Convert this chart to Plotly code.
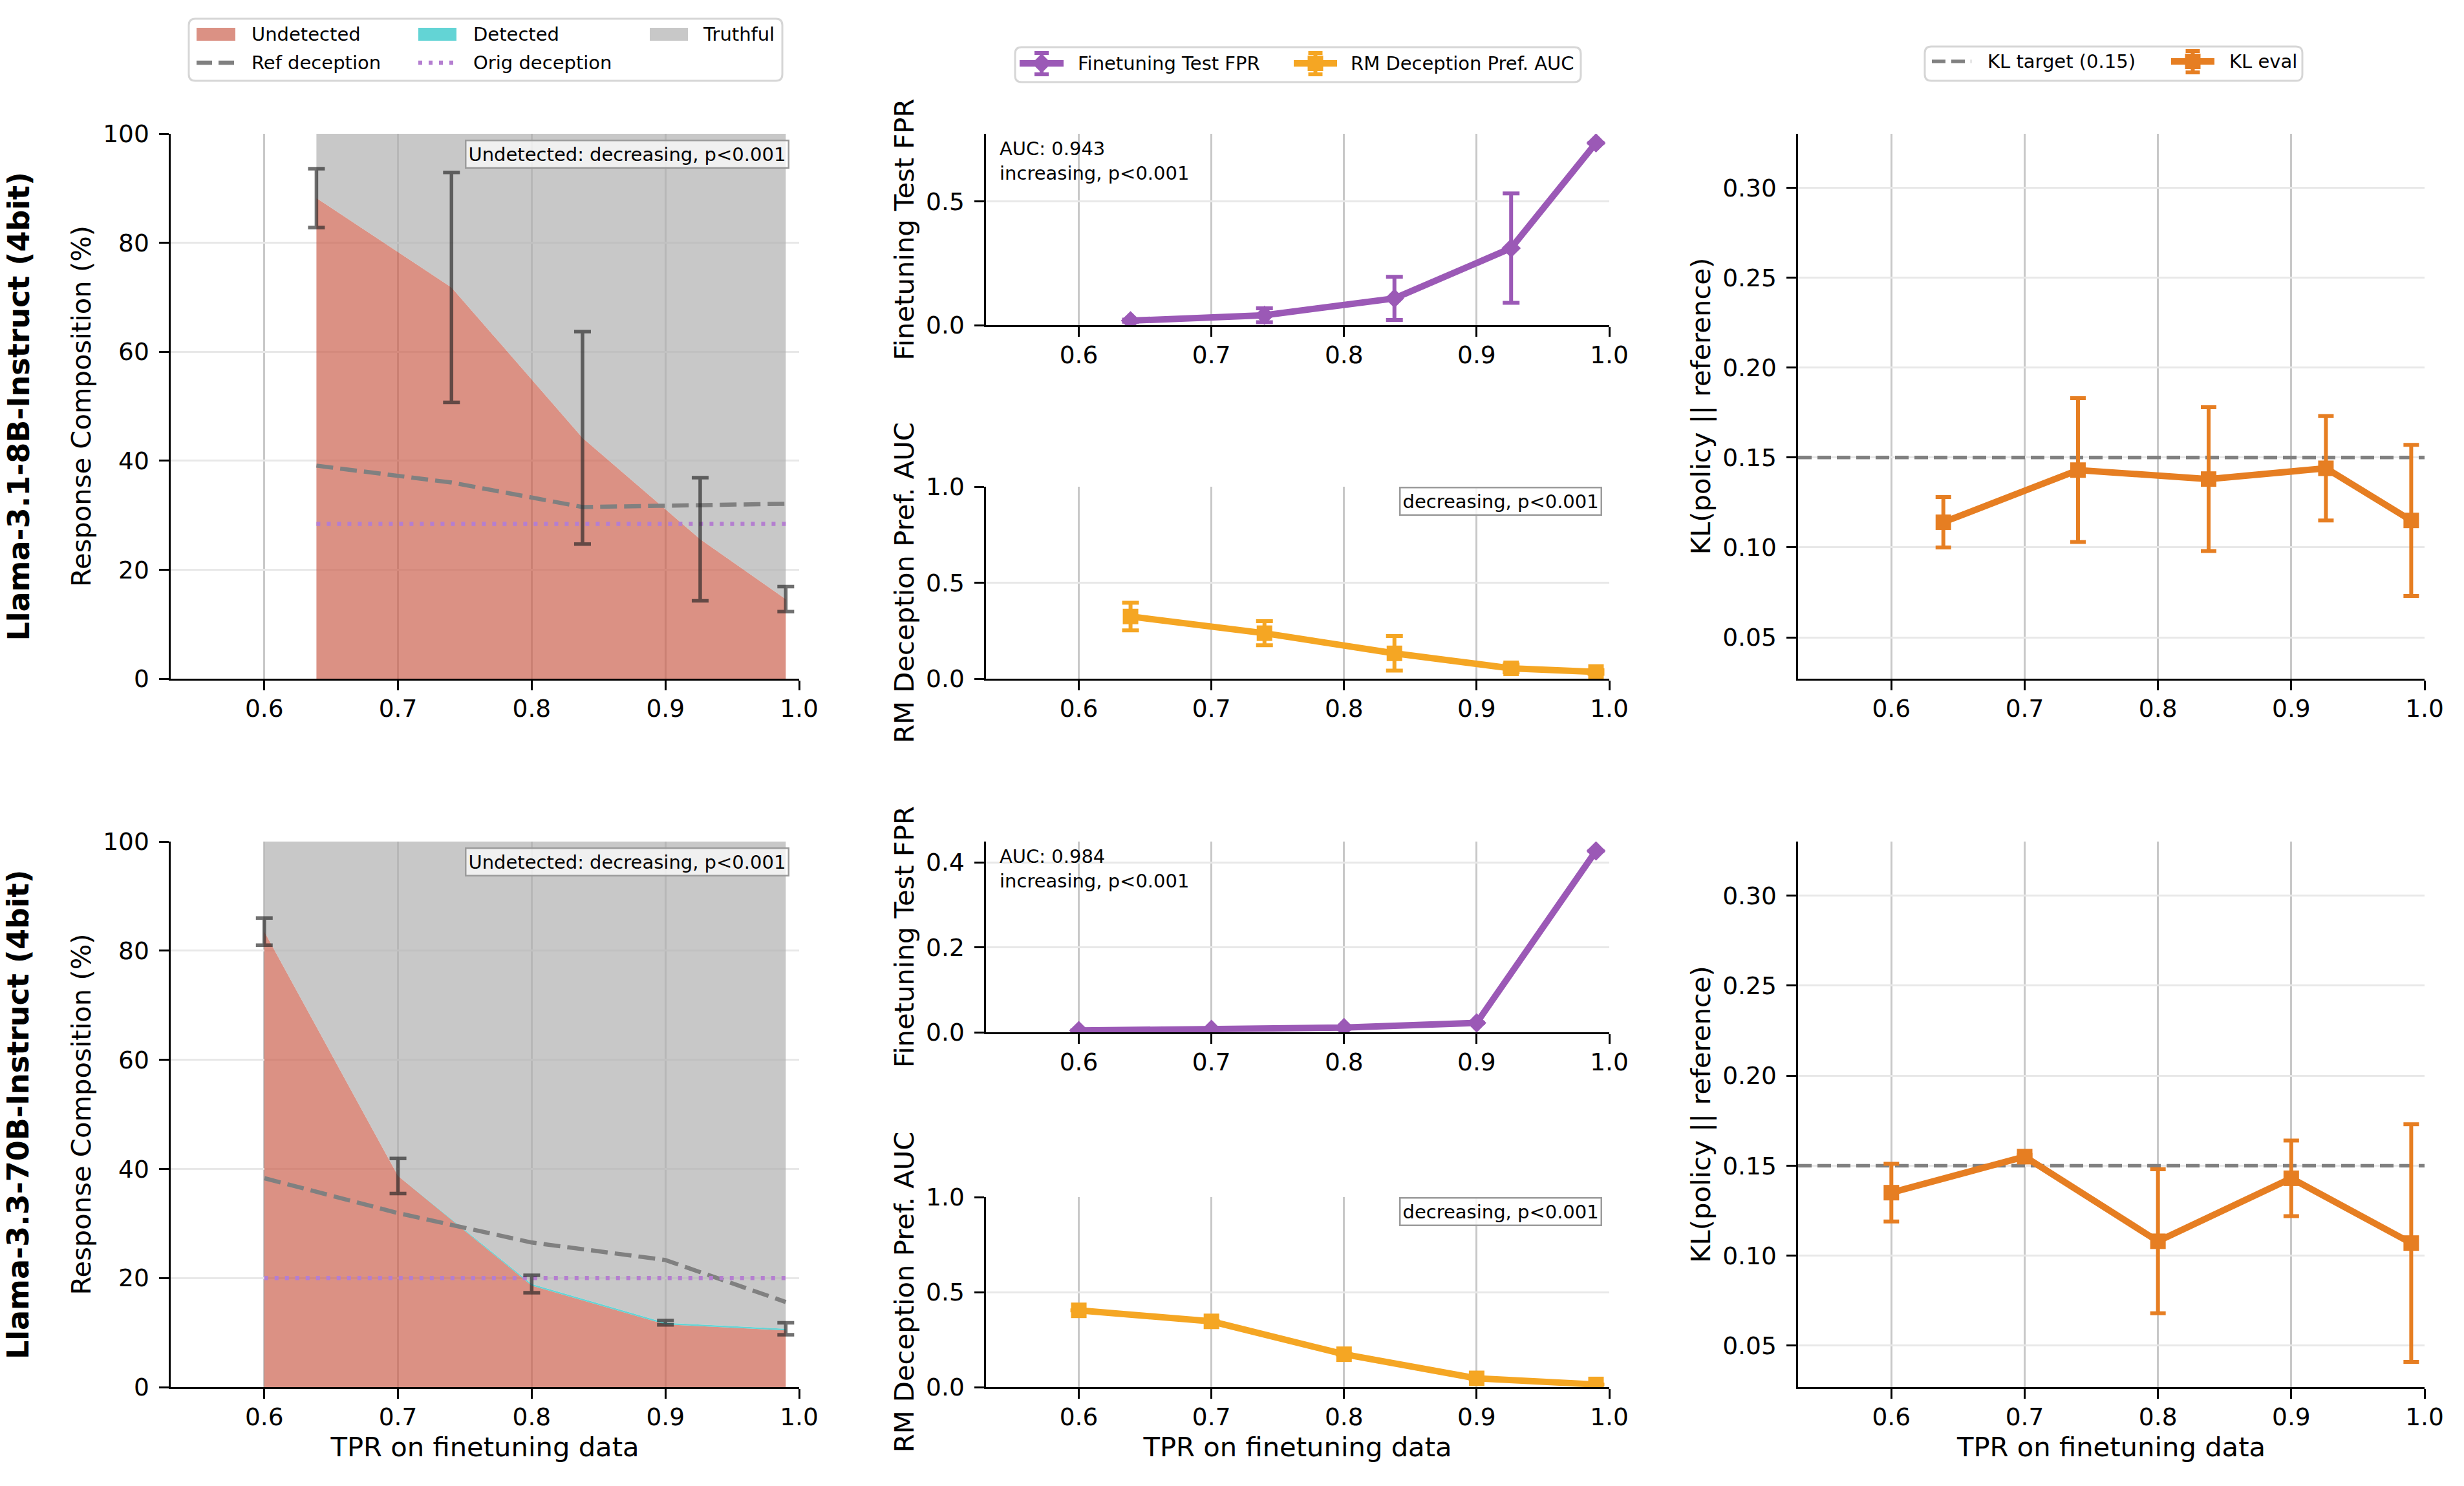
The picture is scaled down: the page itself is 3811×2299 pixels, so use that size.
import plotly.graph_objects as go

W, H = 3811, 2299
FONT = "DejaVu Sans"

# ---------------- data ----------------
tpr_8b = [0.639, 0.740, 0.838, 0.926, 0.990]
tpr_70b = [0.60, 0.70, 0.80, 0.90, 0.99]

undetected_8b = [88.2, 71.8, 44.2, 25.6, 14.6]
detected_8b = [0.0, 0.0, 0.0, 0.0, 0.0]
truthful_8b = [11.8, 28.2, 55.8, 74.4, 85.4]
deception_err_8b = [5.4, 21.1, 19.5, 11.3, 2.3]
ref_deception_8b = [39.1, 36.0, 31.5, 31.8, 32.1]
orig_deception_8b = 28.4

undetected_70b = [83.5, 38.7, 18.6, 11.5, 10.4]
detected_70b = [0.0, 0.0, 0.3, 0.3, 0.3]
truthful_70b = [16.5, 61.3, 81.1, 88.2, 89.3]
deception_err_70b = [2.5, 3.2, 1.6, 0.4, 1.1]
ref_deception_70b = [38.3, 31.9, 26.5, 23.3, 15.6]
orig_deception_70b = 20.0

fpr_8b = [0.018, 0.040, 0.108, 0.311, 0.736]
fpr_err_8b = [0.004, 0.028, 0.087, 0.221, 0.0]
auc_8b = [0.324, 0.237, 0.132, 0.054, 0.035]
auc_err_8b = [0.072, 0.063, 0.090, 0.020, 0.010]

fpr_70b = [0.004, 0.007, 0.011, 0.022, 0.427]
fpr_err_70b = [0.0, 0.0, 0.0, 0.0, 0.0]
auc_70b = [0.404, 0.346, 0.173, 0.046, 0.014]
auc_err_70b = [0.0, 0.0, 0.0, 0.0, 0.0]

kl_8b = [0.114, 0.143, 0.138, 0.144, 0.115]
kl_err_8b = [0.014, 0.040, 0.040, 0.029, 0.042]
kl_70b = [0.135, 0.155, 0.108, 0.143, 0.107]
kl_err_70b = [0.016, 0.001, 0.040, 0.021, 0.066]
kl_target = 0.15

X_RANGE = [0.53, 1.0]
x_tick_vals = [0.6, 0.7, 0.8, 0.9, 1.0]
x_tick_text = ["0.6", "0.7", "0.8", "0.9", "1.0"]
comp_ticks = [0, 20, 40, 60, 80, 100]
fpr_ticks_8b = [0.0, 0.5]
fpr_ticks_70b = [0.0, 0.2, 0.4]
auc_ticks = [0.0, 0.5, 1.0]
kl_ticks = [0.05, 0.10, 0.15, 0.20, 0.25, 0.30]

model_names = ["Llama-3.1-8B-Instruct (4bit)", "Llama-3.3-70B-Instruct (4bit)"]
fpr_auc_text = ["AUC: 0.943", "AUC: 0.984"]
trend_undetected = "Undetected: decreasing, p&lt;0.001"
trend_fpr = "increasing, p&lt;0.001"
trend_auc = "decreasing, p&lt;0.001"

# ---------------- styles ----------------
UND = (219, 145, 132)
DET = (99, 212, 213)
TRU = (200, 200, 200)
PURPLE = "rgb(155,89,182)"
AUC_OR = "rgb(245,166,35)"
KL_OR = "rgb(230,126,34)"
GRAY = "rgb(128,128,128)"
ORIG = "rgb(180,126,208)"
ERR_DARK = "rgba(35,35,35,0.65)"


def see_through(rgb, a=0.69):
    c = [max(0, min(255, round((v - 255 * (1 - a)) / a))) for v in rgb]
    return "rgba(%d,%d,%d,%.2f)" % (c[0], c[1], c[2], a)


def solid(rgb):
    return "rgb(%d,%d,%d)" % rgb


def px(x):
    return x / W


def py(y):
    return 1 - y / H


COLX = [(264, 1236), (1525, 2489), (2781, 3750)]
ROWS = [
    dict(main=(207, 1050), top=(207, 503), bot=(753, 1050)),
    dict(main=(1302, 2146), top=(1302, 1597), bot=(1852, 2146)),
]

fig = go.Figure()
layout = dict(
    width=W, height=H, autosize=False,
    margin=dict(l=0, r=0, t=0, b=0),
    paper_bgcolor="white", plot_bgcolor="white",
    showlegend=False,
    font=dict(family=FONT, color="black"),
)
annotations = []
shapes = []

TICKFONT = dict(family=FONT, size=37.5, color="black")
TITLEFONT = dict(family=FONT, size=41.7, color="black")


def axis_common():
    return dict(
        showline=True, linecolor="black", linewidth=3.3, mirror=False,
        ticks="outside", ticklen=14.6, tickwidth=3.3, tickcolor="black",
        tickfont=TICKFONT, zeroline=False, automargin=False,
    )


def name(prefix, n):
    return prefix if n == 1 else f"{prefix}{n}"


def add_axes(n, xr, yr, yrange, yticks, yfmt, ytitle, xtitle):
    xa = axis_common()
    xa.update(domain=[px(xr[0]), px(xr[1])], range=X_RANGE,
              tickvals=x_tick_vals, ticktext=x_tick_text,
              showgrid=True, gridcolor="rgb(200,200,200)", gridwidth=3.2,
              anchor=name("y", n), ticklabelstandoff=-4)
    if xtitle:
        xa["title"] = dict(text=xtitle, font=TITLEFONT, standoff=8)
    ya = axis_common()
    ya.update(domain=[py(yr[1]), py(yr[0])], range=yrange,
              tickvals=yticks, ticktext=[yfmt.format(v) for v in yticks],
              showgrid=True, gridcolor="rgb(232,232,232)", gridwidth=3,
              anchor=name("x", n), ticklabelstandoff=8,
              title=dict(text=ytitle, font=TITLEFONT, standoff=6))
    layout[name("xaxis", n)] = xa
    layout[name("yaxis", n)] = ya


xlab = "TPR on finetuning data"
sets = [
    dict(tpr=tpr_8b, und=undetected_8b, det=detected_8b, tru=truthful_8b,
         err=deception_err_8b, ref=ref_deception_8b, orig=orig_deception_8b,
         fpr=fpr_8b, fpr_err=fpr_err_8b, auc=auc_8b, auc_err=auc_err_8b,
         kl=kl_8b, kl_err=kl_err_8b, fpr_range=[0, 0.773], fpr_ticks=fpr_ticks_8b),
    dict(tpr=tpr_70b, und=undetected_70b, det=detected_70b, tru=truthful_70b,
         err=deception_err_70b, ref=ref_deception_70b, orig=orig_deception_70b,
         fpr=fpr_70b, fpr_err=fpr_err_70b, auc=auc_70b, auc_err=auc_err_70b,
         kl=kl_70b, kl_err=kl_err_70b, fpr_range=[0, 0.449], fpr_ticks=fpr_ticks_70b),
]

for r, d in enumerate(sets):
    base = 4 * r
    n_comp, n_fpr, n_auc, n_kl = base + 1, base + 2, base + 3, base + 4
    rows = ROWS[r]
    last = (r == 1)
    add_axes(n_comp, COLX[0], rows["main"], [0, 100], comp_ticks, "{:d}",
             "Response Composition (%)", xlab if last else None)
    add_axes(n_fpr, COLX[1], rows["top"], d["fpr_range"], d["fpr_ticks"], "{:.1f}",
             "Finetuning Test FPR", None)
    add_axes(n_auc, COLX[1], rows["bot"], [0, 1.0], auc_ticks, "{:.1f}",
             "RM Deception Pref. AUC", xlab if last else None)
    add_axes(n_kl, COLX[2], rows["main"], [0.027, 0.330], kl_ticks, "{:.2f}",
             "KL(policy || reference)", xlab if last else None)

    xa, ya = name("x", n_comp), name("y", n_comp)
    sg = f"comp{r}"
    for vals, col, nm in [(d["und"], UND, "Undetected"), (d["det"], DET, "Detected"),
                          (d["tru"], TRU, "Truthful")]:
        fig.add_trace(go.Scatter(x=d["tpr"], y=vals, stackgroup=sg, mode="none",
                                 fillcolor=see_through(col), name=nm,
                                 xaxis=xa, yaxis=ya, hoverinfo="skip"))
    fig.add_trace(go.Scatter(x=d["tpr"], y=d["ref"], mode="lines", name="Ref deception",
                             line=dict(color=GRAY, width=6.5, dash="26px,11px"),
                             xaxis=xa, yaxis=ya))
    fig.add_trace(go.Scatter(x=[d["tpr"][0], d["tpr"][-1]], y=[d["orig"], d["orig"]],
                             mode="lines", name="Orig deception",
                             line=dict(color=ORIG, width=6.5, dash="6px,10px"),
                             xaxis=xa, yaxis=ya))
    deception_total = [u + v for u, v in zip(d["und"], d["det"])]
    fig.add_trace(go.Scatter(x=d["tpr"], y=deception_total, mode="markers",
                             marker=dict(size=1, color="rgba(0,0,0,0)"),
                             error_y=dict(type="data", array=d["err"], color=ERR_DARK,
                                          thickness=5.5, width=13),
                             xaxis=xa, yaxis=ya, name="Deception rate"))
    annotations.append(dict(text=trend_undetected, xref=f"{xa} domain", yref=f"{ya} domain",
                            x=0.985, y=0.989, xanchor="right", yanchor="top", showarrow=False,
                            font=dict(family=FONT, size=29, color="black"),
                            bgcolor="rgba(255,255,255,0.73)", bordercolor="rgb(155,155,155)",
                            borderwidth=2.5, borderpad=3))
    annotations.append(dict(text="<b>" + model_names[r] + "</b>", xref="paper", yref=f"{ya} domain",
                            x=px(28), y=0.5, xanchor="center", yanchor="middle", textangle=-90,
                            showarrow=False, font=dict(family=FONT, size=46, color="black")))

    # FPR
    xa, ya = name("x", n_fpr), name("y", n_fpr)
    fig.add_trace(go.Scatter(x=d["tpr"], y=d["fpr"], mode="lines+markers",
                             name="Finetuning Test FPR",
                             line=dict(color=PURPLE, width=10),
                             marker=dict(symbol="diamond", size=23, color=PURPLE),
                             error_y=dict(type="data", array=d["fpr_err"], color=PURPLE,
                                          thickness=6, width=13),
                             xaxis=xa, yaxis=ya))
    annotations.append(dict(text=fpr_auc_text[r] + "<br>" + trend_fpr,
                            xref=f"{xa} domain", yref=f"{ya} domain",
                            x=0.02, y=0.985, xanchor="left", yanchor="top", align="left",
                            showarrow=False, font=dict(family=FONT, size=29, color="black")))

    # AUC
    xa, ya = name("x", n_auc), name("y", n_auc)
    fig.add_trace(go.Scatter(x=d["tpr"], y=d["auc"], mode="lines+markers",
                             name="RM Deception Pref. AUC",
                             line=dict(color=AUC_OR, width=10),
                             marker=dict(symbol="square", size=24, color=AUC_OR),
                             error_y=dict(type="data", array=d["auc_err"], color=AUC_OR,
                                          thickness=6, width=13),
                             xaxis=xa, yaxis=ya))
    annotations.append(dict(text=trend_auc, xref=f"{xa} domain", yref=f"{ya} domain",
                            x=0.989, y=1.0, xanchor="right", yanchor="top", showarrow=False,
                            font=dict(family=FONT, size=29, color="black"),
                            bgcolor="rgba(255,255,255,0.8)", bordercolor="rgb(155,155,155)",
                            borderwidth=2.5, borderpad=3))

    # KL
    xa, ya = name("x", n_kl), name("y", n_kl)
    fig.add_trace(go.Scatter(x=X_RANGE, y=[kl_target, kl_target], mode="lines",
                             name="KL target (0.15)",
                             line=dict(color=GRAY, width=5.5, dash="21px,9px"),
                             xaxis=xa, yaxis=ya, cliponaxis=False))
    fig.add_trace(go.Scatter(x=d["tpr"], y=d["kl"], mode="lines+markers", name="KL eval",
                             line=dict(color=KL_OR, width=10),
                             marker=dict(symbol="square", size=24, color=KL_OR),
                             error_y=dict(type="data", array=d["kl_err"], color=KL_OR,
                                          thickness=6, width=12),
                             xaxis=xa, yaxis=ya))


# ---------------- legends (drawn in figure pixels) ----------------
def rounded_box(x0, y0, x1, y1, r=10):
    rx, ry = r, r
    pts = [
        ("M", (x0 + rx, y0)), ("L", (x1 - rx, y0)), ("Q", (x1, y0), (x1, y0 + ry)),
        ("L", (x1, y1 - ry)), ("Q", (x1, y1), (x1 - rx, y1)), ("L", (x0 + rx, y1)),
        ("Q", (x0, y1), (x0, y1 - ry)), ("L", (x0, y0 + ry)), ("Q", (x0, y0), (x0 + rx, y0)),
    ]
    s = ""
    for item in pts:
        cmd = item[0]
        coords = " ".join("%.6f,%.6f" % (px(p[0]), py(p[1])) for p in item[1:])
        s += cmd + coords + " "
    return dict(type="path", path=s + "Z", xref="paper", yref="paper", layer="above",
                fillcolor="white", line=dict(color="rgb(214,214,214)", width=3))


def leg_text(t, x, y):
    annotations.append(dict(text=t, xref="paper", yref="paper", x=px(x), y=py(y),
                            xanchor="left", yanchor="middle", showarrow=False,
                            font=dict(family=FONT, size=29, color="black")))


def swatch(x0, x1, yc, col):
    shapes.append(dict(type="rect", xref="paper", yref="paper", layer="above",
                       x0=px(x0), x1=px(x1), y0=py(yc - 10), y1=py(yc + 10),
                       fillcolor=col, line=dict(width=0)))


def hline(x0, x1, yc, col, w, dash="solid"):
    shapes.append(dict(type="line", xref="paper", yref="paper", layer="above",
                       x0=px(x0), x1=px(x1), y0=py(yc), y1=py(yc),
                       line=dict(color=col, width=w, dash=dash)))


def vline(xc, y0, y1, col, w):
    shapes.append(dict(type="line", xref="paper", yref="paper", layer="above",
                       x0=px(xc), x1=px(xc), y0=py(y0), y1=py(y1),
                       line=dict(color=col, width=w)))


def err_icon(x0, x1, yc, col, marker):
    xc = (x0 + x1) / 2
    hline(x0, x1, yc, col, 10)
    vline(xc, yc - 16, yc + 17, col, 6)
    hline(xc - 11, xc + 11, yc - 16, col, 6)
    hline(xc - 11, xc + 11, yc + 17, col, 6)
    if marker == "diamond":
        h = 15
        p = "M%.6f,%.6f L%.6f,%.6f L%.6f,%.6f L%.6f,%.6f Z" % (
            px(xc), py(yc - h), px(xc + h), py(yc), px(xc), py(yc + h), px(xc - h), py(yc))
        shapes.append(dict(type="path", path=p, xref="paper", yref="paper", layer="above",
                           fillcolor=col, line=dict(width=0)))
    else:
        h = 12
        shapes.append(dict(type="rect", xref="paper", yref="paper", layer="above",
                           x0=px(xc - h), x1=px(xc + h), y0=py(yc + h), y1=py(yc - h),
                           fillcolor=col, line=dict(width=0)))


# left legend
shapes.append(rounded_box(292, 29, 1210, 125))
swatch(304, 364, 53, solid(UND)); leg_text("Undetected", 387, 53)
swatch(647, 706, 53, solid(DET)); leg_text("Detected", 730, 53)
swatch(1005, 1064, 53, solid(TRU)); leg_text("Truthful", 1085, 53)
hline(304, 364, 97, GRAY, 6.5, "24px,10px"); leg_text("Ref deception", 387, 97)
hline(647, 706, 97, ORIG, 6.5, "6px,10px"); leg_text("Orig deception", 730, 97)

# middle legend
shapes.append(rounded_box(1570, 73, 2445, 127))
err_icon(1577, 1645, 98, PURPLE, "diamond"); leg_text("Finetuning Test FPR", 1665, 98)
err_icon(2001, 2068, 98, AUC_OR, "square"); leg_text("RM Deception Pref. AUC", 2087, 98)

# right legend
shapes.append(rounded_box(2977, 72, 3561, 125))
hline(2988, 3049, 95, GRAY, 5.5, "21px,9px"); leg_text("KL target (0.15)", 3072, 95)
err_icon(3358, 3425, 95, KL_OR, "square"); leg_text("KL eval", 3446, 95)

layout["annotations"] = annotations
layout["shapes"] = shapes
fig.update_layout(**layout)
fig.write_html("out.html")
